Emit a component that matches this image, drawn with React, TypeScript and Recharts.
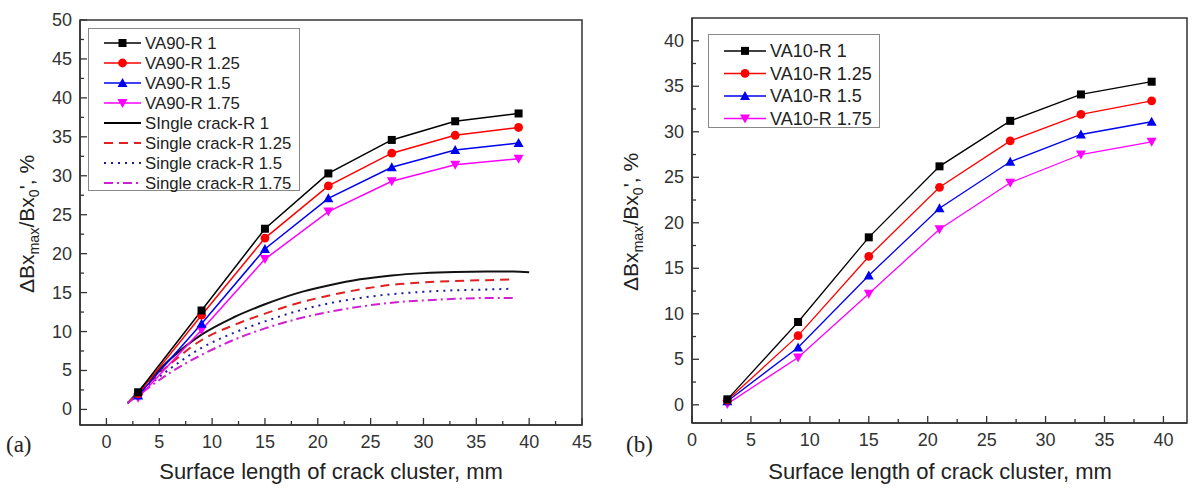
import React from 'react';
import { LineChart, Line, XAxis, YAxis, ReferenceArea } from 'recharts';

// crack cluster lengths (mm) where the VA series were computed
const clusterLengths = [3, 9, 15, 21, 27, 33, 39];

// panel (a) - VA90 cluster
const va90R1 = [2.2, 12.7, 23.2, 30.3, 34.6, 37.0, 38.0];
const va90R125 = [2.0, 12.1, 22.0, 28.7, 32.9, 35.2, 36.2];
const va90R15 = [1.8, 11.0, 20.6, 27.1, 31.1, 33.3, 34.2];
const va90R175 = [1.5, 10.2, 19.3, 25.4, 29.3, 31.4, 32.2];

// panel (a) - single crack curves
const singleLengths = [2, 4, 6, 9, 12, 15, 18, 21, 24, 27, 30, 33, 36, 38.5, 40];
const singleR1 = [0.8, 3.7, 6.4, 9.6, 11.8, 13.5, 14.9, 15.9, 16.7, 17.2, 17.5, 17.65, 17.7, 17.7, 17.6];
const singleR125 = [0.8, 3.4, 5.8, 8.9, 10.8, 12.3, 13.6, 14.6, 15.4, 16.0, 16.3, 16.5, 16.6, 16.7, null];
const singleR15 = [0.8, 3.1, 5.2, 7.9, 9.8, 11.3, 12.6, 13.6, 14.3, 14.8, 15.1, 15.3, 15.4, 15.5, null];
const singleR175 = [0.8, 2.8, 4.7, 7.0, 8.9, 10.4, 11.6, 12.5, 13.2, 13.7, 14.0, 14.2, 14.3, 14.3, null];

// panel (b) - VA10 cluster
const va10R1 = [0.6, 9.1, 18.4, 26.2, 31.2, 34.1, 35.5];
const va10R125 = [0.5, 7.6, 16.3, 23.9, 29.0, 31.9, 33.4];
const va10R15 = [0.4, 6.3, 14.2, 21.6, 26.7, 29.7, 31.1];
const va10R175 = [0.1, 5.2, 12.2, 19.3, 24.4, 27.5, 28.9];

// ticks (labels on every 5, minor tick between)
const xTicksA = [0, 2.5, 5, 7.5, 10, 12.5, 15, 17.5, 20, 22.5, 25, 27.5, 30, 32.5, 35, 37.5, 40, 42.5, 45];
const yTicksA = [0, 2.5, 5, 7.5, 10, 12.5, 15, 17.5, 20, 22.5, 25, 27.5, 30, 32.5, 35, 37.5, 40, 42.5, 45, 47.5, 50];
const xTicksB = [0, 2.5, 5, 7.5, 10, 12.5, 15, 17.5, 20, 22.5, 25, 27.5, 30, 32.5, 35, 37.5, 40];
const yTicksB = [0, 2.5, 5, 7.5, 10, 12.5, 15, 17.5, 20, 22.5, 25, 27.5, 30, 32.5, 35, 37.5, 40];

const toPoints = (xs: number[], ys: (number | null)[]) =>
  xs.map((x, i) => ({ x, y: ys[i] })).filter(p => p.y !== null);

const AXIS = '#333';
const FONT = '"Liberation Sans", Arial, sans-serif';

type Shape = 'square' | 'circle' | 'up' | 'down';

const Marker = ({ cx, cy, shape, color }: { cx: number; cy: number; shape: Shape; color: string }) => {
  if (shape === 'square') return <rect x={cx - 4} y={cy - 4} width={8} height={8} fill={color} />;
  if (shape === 'circle') return <circle cx={cx} cy={cy} r={4.4} fill={color} />;
  if (shape === 'up') return <polygon points={`${cx},${cy - 5} ${cx + 5},${cy + 4} ${cx - 5},${cy + 4}`} fill={color} />;
  return <polygon points={`${cx},${cy + 5} ${cx + 5},${cy - 4} ${cx - 5},${cy - 4}`} fill={color} />;
};

const dotOf = (shape: Shape, color: string) => (p: any) => (
  <g key={`d-${p.index}`}>
    <Marker cx={p.cx} cy={p.cy} shape={shape} color={color} />
  </g>
);

const isMajor = (v: number) => Math.abs(v % 5) < 1e-6;

// ticks point into the plot; tickSize/tickMargin are 0 so (x, y) sits on the axis line
const XTick = (props: any) => {
  const { x, y, payload } = props;
  const v = payload.value;
  const major = isMajor(v);
  return (
    <g>
      <line x1={x} y1={y} x2={x} y2={y - (major ? 7 : 4)} stroke={AXIS} strokeWidth={1.3} />
      {major && (
        <text x={x} y={y + 23} textAnchor="middle" fontSize={18} fill="#333" fontFamily={FONT}>
          {v}
        </text>
      )}
    </g>
  );
};

const YTick = (props: any) => {
  const { x, y, payload } = props;
  const v = payload.value;
  const major = isMajor(v);
  return (
    <g>
      <line x1={x} y1={y} x2={x + (major ? 7 : 4)} y2={y} stroke={AXIS} strokeWidth={1.3} />
      {major && (
        <text x={x - 8} y={y + 6} textAnchor="end" fontSize={18} fill="#333" fontFamily={FONT}>
          {v}
        </text>
      )}
    </g>
  );
};

interface LegendItem {
  label: string;
  color: string;
  shape?: Shape;
  dash?: string;
}

const legendA: LegendItem[] = [
  { label: 'VA90-R 1', color: '#000', shape: 'square' },
  { label: 'VA90-R 1.25', color: '#f00', shape: 'circle' },
  { label: 'VA90-R 1.5', color: '#0000f0', shape: 'up' },
  { label: 'VA90-R 1.75', color: '#f0f', shape: 'down' },
  { label: 'SIngle crack-R 1', color: '#000' },
  { label: 'Single crack-R 1.25', color: '#e02020', dash: '9 6' },
  { label: 'Single crack-R 1.5', color: '#1a1aa0', dash: '2 5' },
  { label: 'Single crack-R 1.75', color: '#d020d0', dash: '9 4 2 4' },
];

const legendB: LegendItem[] = [
  { label: 'VA10-R 1', color: '#000', shape: 'square' },
  { label: 'VA10-R 1.25', color: '#f00', shape: 'circle' },
  { label: 'VA10-R 1.5', color: '#0000f0', shape: 'up' },
  { label: 'VA10-R 1.75', color: '#f0f', shape: 'down' },
];

const LegendBox = ({ items, left, top, width, height, rowH, lineW, fontSize }: any) => (
  <svg
    width={width}
    height={height}
    style={{ position: 'absolute', left, top, overflow: 'visible' }}
  >
    <rect x={0.5} y={0.5} width={width - 1} height={height - 1} fill="white" stroke="#888" />
    {items.map((it: LegendItem, i: number) => {
      const cy = rowH * 0.75 + i * rowH;
      return (
        <g key={it.label}>
          <line
            x1={16}
            x2={16 + lineW}
            y1={cy}
            y2={cy}
            stroke={it.color}
            strokeWidth={it.shape ? 1.5 : 2}
            strokeDasharray={it.dash}
          />
          {it.shape && <Marker cx={16 + lineW / 2} cy={cy} shape={it.shape} color={it.color} />}
          <text x={20 + lineW} y={cy + fontSize * 0.36} fontSize={fontSize} fill="#222" fontFamily={FONT}>
            {it.label}
          </text>
        </g>
      );
    })}
  </svg>
);

const YTitle = ({ cx, cy }: { cx: number; cy: number }) => (
  <div
    style={{
      position: 'absolute',
      left: cx,
      top: cy,
      transform: 'translate(-50%, -50%) rotate(-90deg)',
      whiteSpace: 'nowrap',
      fontSize: 21,
      color: '#222',
      fontFamily: FONT,
      lineHeight: 1,
    }}
  >
    ΔBx<sub style={{ fontSize: '0.68em' }}>max</sub>/Bx<sub style={{ fontSize: '0.68em' }}>0</sub>', %
  </div>
);

const XTitle = ({ cx, top }: { cx: number; top: number }) => (
  <div
    style={{
      position: 'absolute',
      left: cx,
      top,
      transform: 'translateX(-50%)',
      whiteSpace: 'nowrap',
      fontSize: 22,
      color: '#222',
      fontFamily: FONT,
    }}
  >
    Surface length of crack cluster, mm
  </div>
);

const PanelTag = ({ text, left, top }: { text: string; left: number; top: number }) => (
  <div style={{ position: 'absolute', left, top, fontSize: 23, fontFamily: '"Liberation Serif", serif', color: '#222' }}>
    {text}
  </div>
);

export default function App() {
  return (
    <div style={{ position: 'absolute', left: 0, top: 0, width: 1192, height: 488, background: '#fff', overflow: 'hidden' }}>
      {/* (a) VA90 vs single crack */}
      <div style={{ position: 'absolute', left: 0, top: 0 }}>
        <LineChart width={600} height={488} margin={{ top: 20, right: 18, bottom: 33, left: 40 }}>
          <XAxis
            dataKey="x"
            type="number"
            domain={[-2.5, 45]}
            allowDataOverflow
            ticks={xTicksA}
            interval={0}
            height={30}
            tickSize={0}
            tickMargin={0}
            tick={<XTick />}
            axisLine={{ stroke: AXIS, strokeWidth: 1.5 }}
            tickLine={false}
          />
          <YAxis
            type="number"
            domain={[-2, 50]}
            allowDataOverflow
            ticks={yTicksA}
            interval={0}
            width={40}
            tickSize={0}
            tickMargin={0}
            tick={<YTick />}
            axisLine={{ stroke: AXIS, strokeWidth: 1.5 }}
            tickLine={false}
          />
          <ReferenceArea x1={-2.5} x2={45} y1={-2} y2={50} fill="none" fillOpacity={0} stroke={AXIS} strokeWidth={1.5} />
          <Line data={toPoints(singleLengths, singleR1)} dataKey="y" type="monotone" stroke="#111" strokeWidth={2} dot={false} isAnimationActive={false} />
          <Line data={toPoints(singleLengths, singleR125)} dataKey="y" type="monotone" stroke="#e02020" strokeWidth={2} strokeDasharray="9 6" dot={false} isAnimationActive={false} />
          <Line data={toPoints(singleLengths, singleR15)} dataKey="y" type="monotone" stroke="#1a1aa0" strokeWidth={2} strokeDasharray="2 5" dot={false} isAnimationActive={false} />
          <Line data={toPoints(singleLengths, singleR175)} dataKey="y" type="monotone" stroke="#d020d0" strokeWidth={2} strokeDasharray="9 4 2 4" dot={false} isAnimationActive={false} />
          <Line data={toPoints(clusterLengths, va90R175)} dataKey="y" type="linear" stroke="#f0f" strokeWidth={1.5} dot={dotOf('down', '#f0f')} isAnimationActive={false} />
          <Line data={toPoints(clusterLengths, va90R15)} dataKey="y" type="linear" stroke="#0000f0" strokeWidth={1.5} dot={dotOf('up', '#0000f0')} isAnimationActive={false} />
          <Line data={toPoints(clusterLengths, va90R125)} dataKey="y" type="linear" stroke="#f00" strokeWidth={1.5} dot={dotOf('circle', '#f00')} isAnimationActive={false} />
          <Line data={toPoints(clusterLengths, va90R1)} dataKey="y" type="linear" stroke="#000" strokeWidth={1.5} dot={dotOf('square', '#000')} isAnimationActive={false} />
        </LineChart>
      </div>

      {/* (b) VA10 */}
      <div style={{ position: 'absolute', left: 600, top: 0 }}>
        <LineChart width={592} height={488} margin={{ top: 18, right: 5, bottom: 35, left: 52 }}>
          <XAxis
            dataKey="x"
            type="number"
            domain={[0, 42]}
            allowDataOverflow
            ticks={xTicksB}
            interval={0}
            height={30}
            tickSize={0}
            tickMargin={0}
            tick={<XTick />}
            axisLine={{ stroke: AXIS, strokeWidth: 1.5 }}
            tickLine={false}
          />
          <YAxis
            type="number"
            domain={[-2, 42.5]}
            allowDataOverflow
            ticks={yTicksB}
            interval={0}
            width={40}
            tickSize={0}
            tickMargin={0}
            tick={<YTick />}
            axisLine={{ stroke: AXIS, strokeWidth: 1.5 }}
            tickLine={false}
          />
          <ReferenceArea x1={0} x2={42} y1={-2} y2={42.5} fill="none" fillOpacity={0} stroke={AXIS} strokeWidth={1.5} />
          <Line data={toPoints(clusterLengths, va10R175)} dataKey="y" type="linear" stroke="#f0f" strokeWidth={1.3} dot={dotOf('down', '#f0f')} isAnimationActive={false} />
          <Line data={toPoints(clusterLengths, va10R15)} dataKey="y" type="linear" stroke="#0000f0" strokeWidth={1.3} dot={dotOf('up', '#0000f0')} isAnimationActive={false} />
          <Line data={toPoints(clusterLengths, va10R125)} dataKey="y" type="linear" stroke="#f00" strokeWidth={1.3} dot={dotOf('circle', '#f00')} isAnimationActive={false} />
          <Line data={toPoints(clusterLengths, va10R1)} dataKey="y" type="linear" stroke="#000" strokeWidth={1.3} dot={dotOf('square', '#000')} isAnimationActive={false} />
        </LineChart>
      </div>

      <LegendBox items={legendA} left={88} top={28} width={212} height={163} rowH={20} lineW={37} fontSize={16.8} />
      <LegendBox items={legendB} left={708} top={34} width={172} height={94} rowH={22.5} lineW={42} fontSize={18} />

      <YTitle cx={29} cy={224} />
      <YTitle cx={633} cy={222} />
      <XTitle cx={331} top={459} />
      <XTitle cx={940} top={459} />
      <PanelTag text="(a)" left={6} top={432} />
      <PanelTag text="(b)" left={626} top={432} />
    </div>
  );
}
